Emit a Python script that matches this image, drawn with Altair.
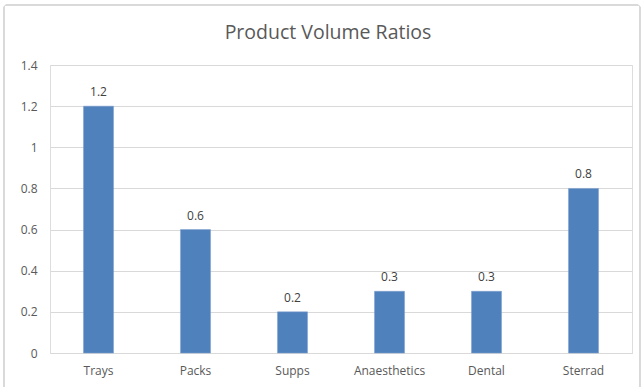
import altair as alt
import pandas as pd

categories = ["Trays", "Packs", "Supps", "Anaesthetics", "Dental", "Sterrad"]
values = [1.2, 0.6, 0.2, 0.3, 0.3, 0.8]
title_text = ["Product Volume Ratios"]

df = pd.DataFrame({"category": categories, "value": values})

FONT = "Open Sans"
TXT = "#595959"

x = alt.X("category:N", sort=categories, title=None,
          scale=alt.Scale(paddingInner=0.69, paddingOuter=0.345),
          axis=alt.Axis(labelAngle=0, ticks=False, domain=True, domainColor="#D9D9D9",
                        labelPadding=12, labelFontSize=12, labelColor=TXT, labelFont=FONT))
y = alt.Y("value:Q", title=None,
          scale=alt.Scale(domain=[0, 1.4]),
          axis=alt.Axis(values=[0, 0.2, 0.4, 0.6, 0.8, 1.0, 1.2, 1.4], format=".1~f",
                        ticks=False, domain=False, gridColor="#D9D9D9", labelPadding=13,
                        labelFontSize=12, labelColor=TXT, labelFont=FONT))

bars = alt.Chart(df).mark_bar(color="#4F81BD", stroke="#7F9FCF", strokeWidth=0.5).encode(x=x, y=y)
labels = alt.Chart(df).mark_text(baseline="bottom", dy=-7, fontSize=12, color="#404040", font=FONT).encode(
    x=alt.X("category:N", sort=categories), y="value:Q", text=alt.Text("value:Q", format=".1f"))

border = alt.Chart(df).mark_rect(fill=None, stroke="#D9D9D9", strokeWidth=1, cornerRadius=3).encode(
    x=alt.value(-46), x2=alt.value(590), y=alt.value(-60), y2=alt.value(340))

title = alt.Chart(pd.DataFrame({"t": title_text})).mark_text(
    fontSize=19.5, font=FONT, color=TXT, align="center", baseline="middle").encode(
    x=alt.value(278), y=alt.value(-32), text="t:N")

chart = alt.layer(border, bars, labels, title).properties(
    width=582, height=288,
    autosize=alt.AutoSizeParams(type="none"),
    padding={"left": 50, "top": 65, "right": 11, "bottom": 34},
).configure_view(stroke=None).configure(background="white")

chart.save("out.html", embed_options={"renderer": "svg", "actions": False})
